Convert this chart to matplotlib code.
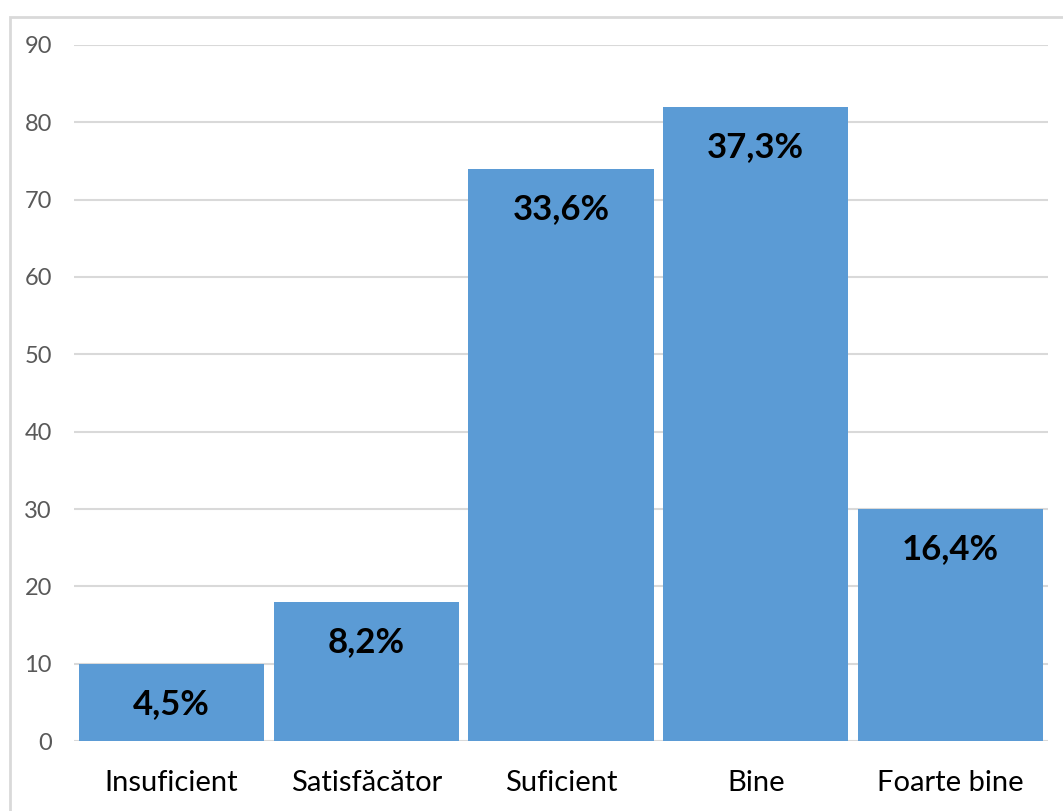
import matplotlib
matplotlib.use('Agg')
import matplotlib.pyplot as plt
from matplotlib.patches import Rectangle

categories = ['Insuficient', 'Satisfăcător', 'Suficient', 'Bine', 'Foarte bine']
counts = [10, 18, 74, 82, 30]
percent_labels = ['4,5%', '8,2%', '33,6%', '37,3%', '16,4%']

plt.rcParams['font.family'] = ['Lato', 'DejaVu Sans']

W, H = 1063, 811
fig = plt.figure(figsize=(W / 100, H / 100), dpi=100)
ax = fig.add_axes([74 / W, (H - 741) / H, (1048 - 74) / W, (741 - 45) / H])

# chart border (clipped on the right/bottom like the original)
fig.patches.append(Rectangle((10 / W, -0.1), 1.2, (H - 17) / H + 0.1,
                             transform=fig.transFigure, fill=False,
                             edgecolor='#d9d9d9', linewidth=2))

x = range(len(categories))
bars = ax.bar(x, counts, width=0.95, color='#5b9bd5', zorder=3)

for b, lab in zip(bars, percent_labels):
    ax.annotate(lab, (b.get_x() + b.get_width() / 2, b.get_height()),
                xytext=(0, -40), textcoords='offset pixels',
                ha='center', va='center', fontsize=25, fontweight='bold',
                color='black', zorder=4)

ax.set_xlim(-0.5, len(categories) - 0.5)
ax.set_ylim(0, 90)
ax.set_yticks(range(0, 91, 10))
ax.set_xticks(list(x))
ax.set_xticklabels(categories, fontsize=21, color='black')
ax.tick_params(axis='y', labelsize=17, labelcolor='#595959', length=0, pad=16)
ax.tick_params(axis='x', length=0, pad=21)
ax.grid(axis='y', color='#d9d9d9', linewidth=1.5, zorder=0)
for s in ax.spines.values():
    s.set_visible(False)

fig.savefig('out.png', dpi=100)
